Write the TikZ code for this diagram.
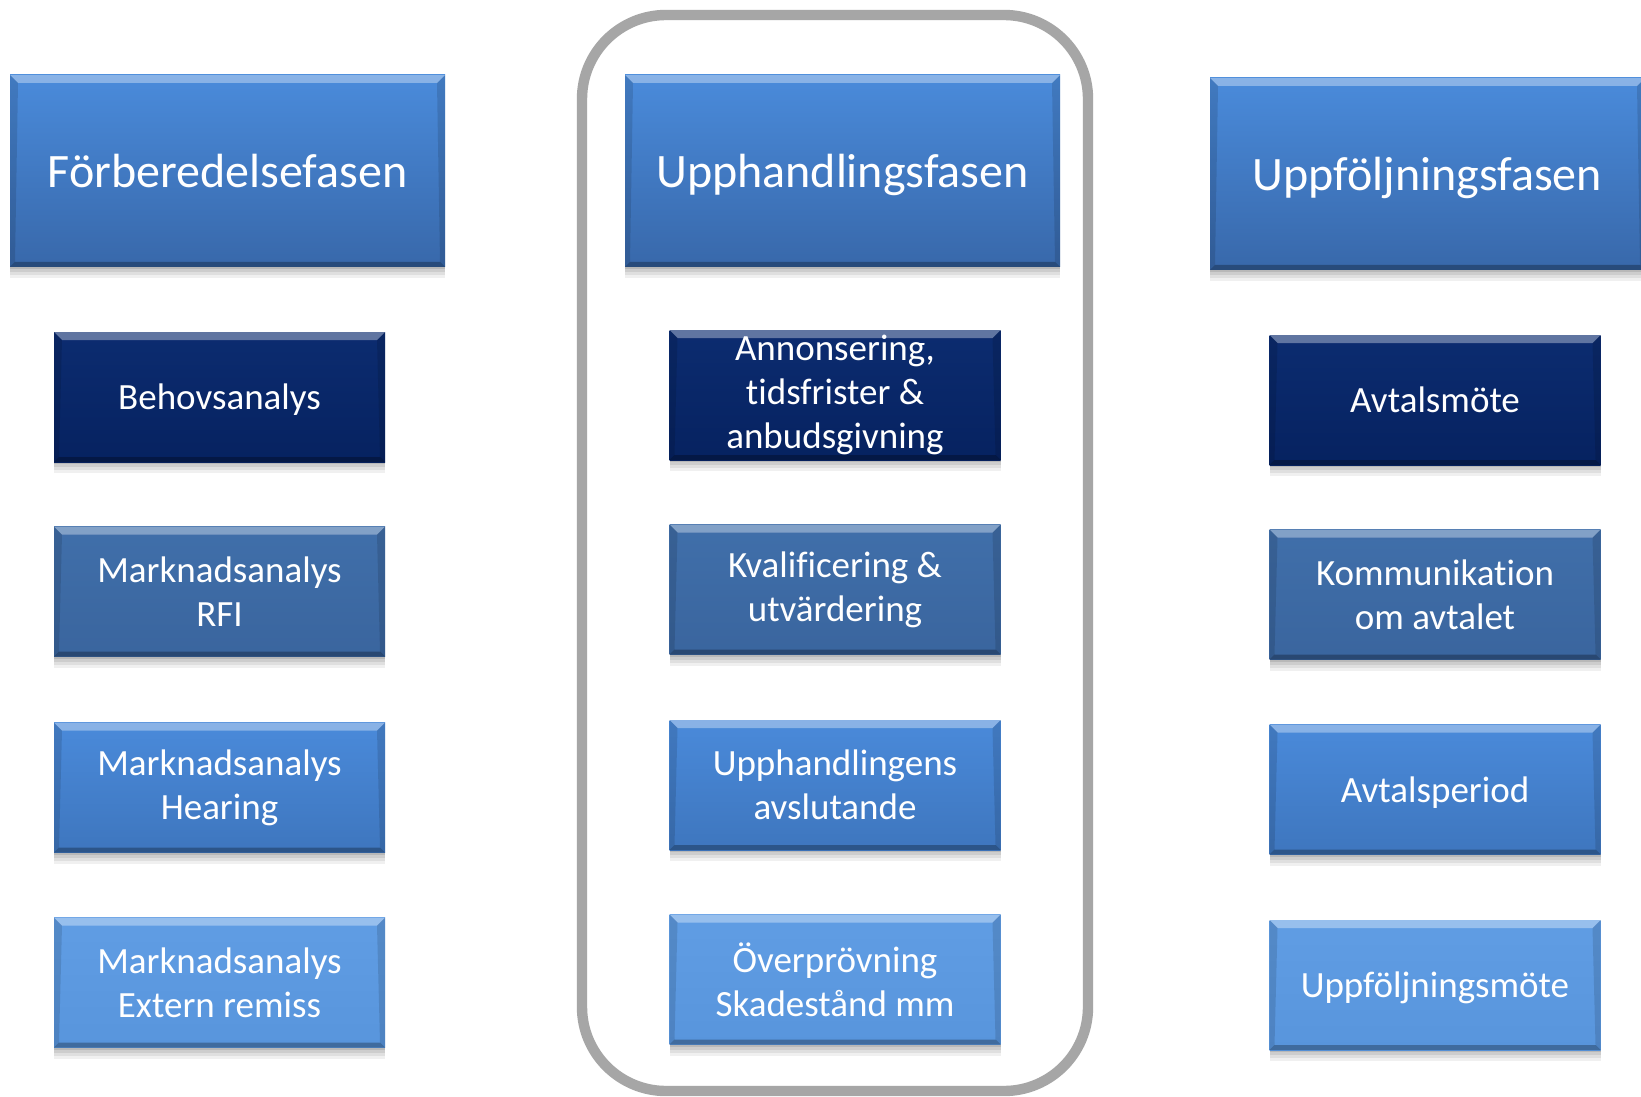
\documentclass[tikz,border=0pt]{standalone}
\usepackage{fontspec}
\setmainfont{Carlito}[Ligatures=NoCommon]
\definecolor{hdrtop}{RGB}{74,139,219}
\definecolor{hdrbot}{RGB}{56,104,170}
\definecolor{navytop}{RGB}{12,44,112}
\definecolor{navybot}{RGB}{6,34,96}
\definecolor{steeltop}{RGB}{64,111,170}
\definecolor{steelbot}{RGB}{58,101,158}
\definecolor{midtop}{RGB}{74,138,218}
\definecolor{midbot}{RGB}{62,118,190}
\definecolor{lighttop}{RGB}{96,157,228}
\definecolor{lightbot}{RGB}{88,149,220}
\definecolor{framegray}{RGB}{166,166,166}
\tikzset{
  bevel/.style={path picture={
    \fill[white,opacity=.35] (path picture bounding box.north west) -- (path picture bounding box.north east) -- ([xshift=-4pt,yshift=-4pt]path picture bounding box.north east) -- ([xshift=4pt,yshift=-4pt]path picture bounding box.north west) -- cycle;
    \fill[black,opacity=.28] (path picture bounding box.south west) -- (path picture bounding box.south east) -- ([xshift=-2.5pt,yshift=2.5pt]path picture bounding box.south east) -- ([xshift=2.5pt,yshift=2.5pt]path picture bounding box.south west) -- cycle;
    \fill[black,opacity=.12] (path picture bounding box.north west) -- ([xshift=4pt,yshift=-4pt]path picture bounding box.north west) -- ([xshift=2.5pt,yshift=2.5pt]path picture bounding box.south west) -- (path picture bounding box.south west) -- cycle;
    \fill[black,opacity=.12] (path picture bounding box.north east) -- ([xshift=-4pt,yshift=-4pt]path picture bounding box.north east) -- ([xshift=-2.5pt,yshift=2.5pt]path picture bounding box.south east) -- (path picture bounding box.south east) -- cycle;
  }},
  softshadow/.style={
    preaction={fill=black,opacity=.06,transform canvas={yshift=-5.5pt}},
    preaction={fill=black,opacity=.07,transform canvas={yshift=-4pt}},
    preaction={fill=black,opacity=.08,transform canvas={yshift=-2.5pt}},
    preaction={fill=black,opacity=.10,transform canvas={yshift=-1.2pt}}},
  boxbase/.style={rectangle,inner sep=0pt,text=white,align=center,softshadow,bevel},
  header/.style={boxbase,minimum width=217.5pt,minimum height=96pt,font=\fontsize{24}{29}\selectfont,
                 text height=18pt,text depth=1.4pt,top color=hdrtop,bottom color=hdrbot},
  smallbox/.style={boxbase,minimum width=165.5pt,minimum height=65pt,font=\fontsize{18.5}{22}\selectfont},
  oneline/.style={text height=14pt,text depth=1.2pt},
  rowA/.style={smallbox,top color=navytop,bottom color=navybot},
  rowB/.style={smallbox,top color=steeltop,bottom color=steelbot},
  rowC/.style={smallbox,top color=midtop,bottom color=midbot},
  rowD/.style={smallbox,top color=lighttop,bottom color=lightbot},
  phaseframe/.style={draw=framegray,line width=5.2pt,rounded corners=42pt}
}
\begin{document}
\begin{tikzpicture}[x=0.5pt,y=-0.5pt]
\useasboundingbox (0,0) rectangle (1641,1096);
\clip (0,0) rectangle (1641,1096);
\fill[white] (0,0) rectangle (1641,1096);
% frame around procurement phase
\draw[phaseframe] (582,15) rectangle (1088,1091);
% headers
\node[header] (h1) at (227.5,171) {Förberedelsefasen};
\node[header] (h2) at (842.5,171) {Upphandlingsfasen};
\node[header] (h3) at (1427.5,174) {Uppföljningsfasen};
% left column
\node[rowA,oneline] (l1) at (219.5,397) {Behovsanalys};
\node[rowB] (l2) at (219.5,591.5) {Marknadsanalys\\RFI};
\node[rowC] (l3) at (219.5,787.5) {Marknadsanalys\\Hearing};
\node[rowD] (l4) at (219.5,982.5) {Marknadsanalys\\Extern remiss};
% middle column
\node[rowA] (m1) at (835,395) {Annonsering,\\t\kern0pt idsfrister \&\\anbudsgivning};
\node[rowB] (m2) at (835,589.5) {Kvalificering \&\\utvärdering};
\node[rowC] (m3) at (835,785) {Upphandlingens\\avslutande};
\node[rowD] (m4) at (835,979.5) {Överprövning\\Skadestånd mm};
% right column
\node[rowA,oneline] (r1) at (1435,400) {Avtalsmöte};
\node[rowB] (r2) at (1435,594.5) {Kommunikat\kern0pt ion\\om avtalet};
\node[rowC,oneline] (r3) at (1435,789.5) {Avtalsperiod};
\node[rowD,oneline] (r4) at (1435,985) {Uppföljningsmöte};
\end{tikzpicture}
\end{document}
